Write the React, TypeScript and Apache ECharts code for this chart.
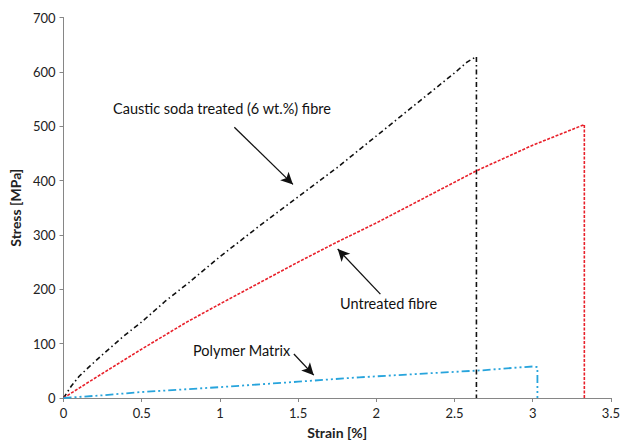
import React, { useEffect, useRef } from "react";
import * as echarts from "echarts";

const causticStrain = [0, 0.05, 0.1, 0.17, 0.25, 0.385, 0.5, 0.65, 0.8, 1.0, 1.25, 1.5, 1.75, 2.0, 2.25, 2.5, 2.58, 2.64, 2.64];
const causticStress = [0, 22, 40, 59, 80, 114, 140, 178, 212, 260, 316, 370, 424, 482, 540, 598, 618, 628, 0];

const untreatedStrain = [0, 0.17, 0.5, 0.79, 1.0, 1.5, 1.75, 2.0, 2.38, 2.64, 3.0, 3.33, 3.33];
const untreatedStress = [0, 31, 90, 140, 173, 250, 287, 322, 379, 418, 465, 503, 0];

const matrixStrain = [0, 0.25, 0.5, 1.0, 1.5, 1.89, 2.25, 2.68, 2.9, 3.0, 3.03, 3.03];
const matrixStress = [0, 5, 11, 20, 30, 38, 44, 51, 56, 58, 57, 0];

const xTicks = [0, 0.5, 1, 1.5, 2, 2.5, 3, 3.5];
const yTicks = [0, 100, 200, 300, 400, 500, 600, 700];

const annotations = [
  { label: "Caustic soda treated (6 wt.%) fibre", from: [1.092, 498], to: [1.467, 393] },
  { label: "Untreated fibre", from: [2.026, 191], to: [1.753, 274] },
  { label: "Polymer Matrix", from: [1.473, 81], to: [1.6, 42] },
];

const FONT = "Lato, 'Open Sans', sans-serif";

function zip(xs: number[], ys: number[]) {
  return xs.map((x, i) => [x, ys[i]]);
}

export default function App() {
  const ref = useRef<HTMLDivElement>(null);
  useEffect(() => {
    if (!ref.current) return;
    const chart = echarts.init(ref.current, null, { renderer: "svg" });
    chart.setOption({
      animation: false,
      backgroundColor: "#ffffff",
      grid: { left: 61, right: 11.5, top: 17.5, bottom: 45, containLabel: false },
      xAxis: {
        type: "value",
        min: xTicks[0],
        max: xTicks[xTicks.length - 1],
        interval: 0.5,
        name: "Strain [%]",
        nameLocation: "middle",
        nameGap: 27,
        nameTextStyle: { fontFamily: FONT, fontWeight: "bold", fontSize: 14, color: "#222" },
        axisLine: { lineStyle: { color: "#868686", width: 1 } },
        axisTick: { show: true, length: 4, lineStyle: { color: "#868686" } },
        axisLabel: { fontFamily: FONT, fontSize: 13, color: "#222", margin: 8 },
        splitLine: { show: false },
      },
      yAxis: {
        type: "value",
        min: yTicks[0],
        max: yTicks[yTicks.length - 1],
        interval: 100,
        name: "Stress [MPa]",
        nameLocation: "middle",
        nameGap: 38,
        nameTextStyle: { fontFamily: FONT, fontWeight: "bold", fontSize: 14, color: "#222" },
        axisLine: { show: true, lineStyle: { color: "#868686", width: 1 } },
        axisTick: { show: true, length: 4, lineStyle: { color: "#868686" } },
        axisLabel: { fontFamily: FONT, fontSize: 13, color: "#222", margin: 8 },
        splitLine: { show: false },
      },
      series: [
        {
          type: "line",
          name: "Caustic soda treated (6 wt.%) fibre",
          data: zip(causticStrain, causticStress),
          showSymbol: false,
          symbol: "none",
          lineStyle: { color: "#111", width: 1.6, type: [5, 3, 1.5, 3] },
          markLine: {
            silent: true,
            symbolSize: [9, 12],
            label: { show: false },
            lineStyle: { color: "#111", width: 1.3, type: "solid" },
            data: annotations.map((a) => [
              { coord: a.from, symbol: "none" },
              { coord: a.to, symbol: "arrow" },
            ]),
          },
        },
        {
          type: "line",
          name: "Untreated fibre",
          data: zip(untreatedStrain, untreatedStress),
          showSymbol: false,
          symbol: "none",
          lineStyle: { color: "#e8202a", width: 1.6, type: [3, 1.5] },
        },
        {
          type: "line",
          name: "Polymer Matrix",
          data: zip(matrixStrain, matrixStress),
          showSymbol: false,
          symbol: "none",
          lineStyle: { color: "#27a4dc", width: 1.8, type: [8, 3, 2, 3, 2, 3] },
        },
      ],
      graphic: [
        {
          type: "text",
          left: 113,
          top: 101,
          style: { text: annotations[0].label, font: `14.5px ${FONT}`, fill: "#111" },
        },
        {
          type: "text",
          left: 340,
          top: 296,
          style: { text: annotations[1].label, font: `14.5px ${FONT}`, fill: "#111" },
        },
        {
          type: "text",
          left: 193,
          top: 343,
          style: { text: annotations[2].label, font: `14.5px ${FONT}`, fill: "#111" },
        },
      ],
    });
    return () => chart.dispose();
  }, []);
  return (
    <div
      ref={ref}
      style={{ position: "fixed", left: 0, top: 0, width: 623, height: 444 }}
    />
  );
}
